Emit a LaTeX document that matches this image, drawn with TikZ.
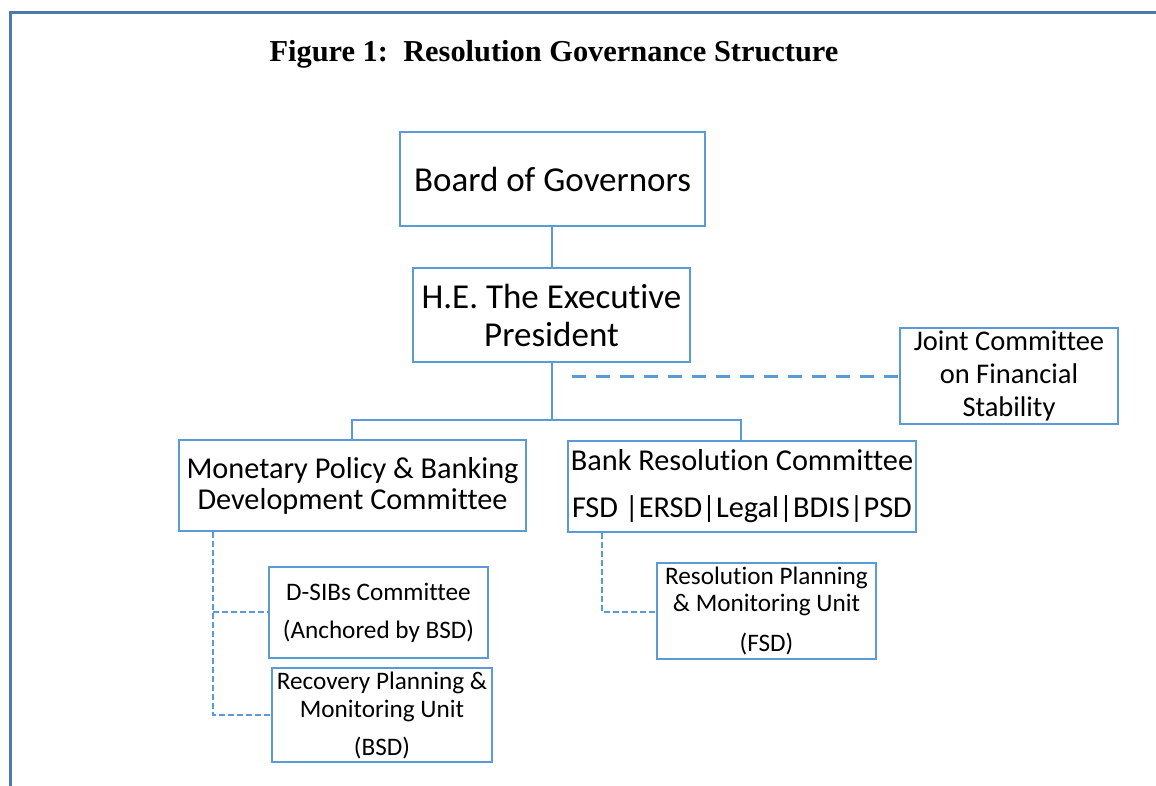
\documentclass[tikz,border=0pt]{standalone}
\usepackage{fontspec}
\setmainfont[Ligatures=NoCommon]{Carlito}
\newfontfamily\titlefont{Liberation Serif}
\definecolor{boxblue}{HTML}{5B9BD5}
\definecolor{framblue}{HTML}{4A7AAE}
\begin{document}
\begin{tikzpicture}[x=1pt,y=-1pt,
  box/.style={draw=boxblue, line width=2pt, align=center, inner sep=0pt, text=black},
  solidline/.style={draw=boxblue, line width=2pt},
  bigdash/.style={draw=boxblue, line width=3pt, dash pattern=on 14pt off 10pt},
  smalldash/.style={draw=boxblue, line width=1.6pt, dash pattern=on 6pt off 3pt}]
\useasboundingbox (0,0) rectangle (1156,785);
% frame
\draw[framblue, line width=3pt] (10,790) -- (10,12) -- (1160,12);
% title
\node[font=\titlefont\bfseries\fontsize{30.4}{34}\selectfont] (title) at (554,54) {Figure 1:\ \ Resolution Governance Structure};
% boxes
\node[box, minimum width=305pt, minimum height=94pt, font=\fontsize{35}{38}\selectfont] (bog) at (552.5,179) {Board of Governors};
\node[box, minimum width=277pt, minimum height=94pt, font=\fontsize{35}{38}\selectfont] (he) at (551.5,315) {H.E. The Executive\\President};
\node[box, minimum width=218pt, minimum height=96pt, font=\fontsize{28.5}{33}\selectfont] (jc) at (1009,376) {Joint Committee\\on Financial\\Stability};
\node[box, minimum width=347pt, minimum height=91pt, font=\fontsize{30.3}{31}\selectfont] (mp) at (352.5,485.5) {Monetary Policy \& Banking\\Development Committee};
\node[box, minimum width=348pt, minimum height=91pt, font=\fontsize{30.3}{31}\selectfont] (brc) at (742,486.5) {Bank Resolution Committee\\[16pt]FSD |ERSD|Legal|BDIS|PSD};
\node[box, minimum width=219pt, minimum height=91pt, font=\fontsize{25.2}{27}\selectfont] (dsib) at (378.5,612.5) {D-SIBs Committee\\[11pt](Anchored by BSD)};
\node[box, minimum width=220pt, minimum height=94pt, font=\fontsize{25.2}{28}\selectfont] (rec) at (382,715) {Recovery Planning \&\\Monitoring Unit\\[10pt](BSD)};
\node[box, minimum width=219pt, minimum height=96pt, font=\fontsize{25.2}{27}\selectfont] (res) at (766.5,611) {Resolution Planning\\\& Monitoring Unit\\[13pt](FSD)};
% coordinates
\coordinate (hb) at (552,420);
\coordinate (jl) at (352,420);
\coordinate (jr) at (741,420);
\coordinate (ds) at (572,376);
\coordinate (lc) at (213,612);
\coordinate (lb) at (213,715);
\coordinate (rc) at (602,612);
% solid connectors
\draw[solidline] (bog.south -| hb) -- (he.north -| hb);
\draw[solidline] (he.south -| hb) -- (hb);
\draw[solidline] (mp.north -| jl) -- (jl) -- (jr) -- (brc.north -| jr);
% dashed connectors
\draw[bigdash] (ds) -- (jc.west |- ds);
\draw[smalldash] (mp.south -| lc) -- (lb) -- (rec.west |- lb);
\draw[smalldash] (lc) -- (dsib.west |- lc);
\draw[smalldash] (brc.south -| rc) -- (rc) -- (res.west |- rc);
\end{tikzpicture}
\end{document}
